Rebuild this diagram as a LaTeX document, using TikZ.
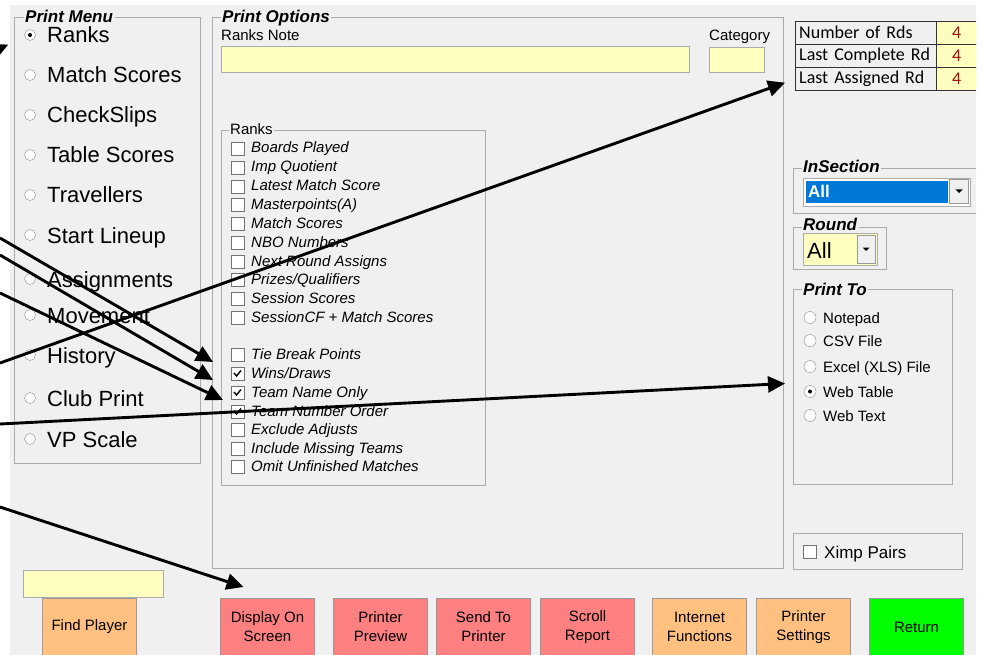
\documentclass[tikz,border=0pt]{standalone}
\usepackage{fontspec}
\setmainfont{Liberation Sans}
\newfontfamily\gridfont{Carlito}
\usetikzlibrary{arrows.meta,positioning}

\definecolor{winbg}{HTML}{F0F0F0}
\definecolor{etch}{HTML}{ABABAB}
\definecolor{editbg}{HTML}{FFFFC0}
\definecolor{btnred}{HTML}{FF8080}
\definecolor{btnorange}{HTML}{FFC080}
\definecolor{btngreen}{HTML}{00FF00}
\definecolor{selblue}{HTML}{0078D7}
\definecolor{valred}{HTML}{A01010}

\tikzset{
  pointer/.style={line width=2.9pt, -{Triangle[length=17pt,width=16pt]}},
  grp/.style={draw=etch, line width=0.9pt},
  grptitle/.style={anchor=base west, inner xsep=1.5pt, inner ysep=0pt, fill=winbg,
    font=\fontsize{17}{17}\selectfont\bfseries\itshape},
  lbl/.style={anchor=base west, inner sep=0pt, font=\fontsize{15}{15}\selectfont},
  menulbl/.style={anchor=base west, inner sep=0pt, font=\fontsize{22}{22}\selectfont},
  optlbl/.style={anchor=base west, inner sep=0pt, font=\fontsize{15}{15}\selectfont\itshape},
  radio/.style={circle, draw=black!45, fill=white, minimum size=11pt, inner sep=0pt},
  chk/.style={rectangle, draw=black!55, fill=white, minimum size=12.5pt, inner sep=0pt},
  tick/.style={line width=1.4pt},
  edit/.style={draw=etch, fill=editbg, line width=0.9pt, anchor=north west, inner sep=0pt},
  dropbtn/.style={draw=black!40, fill=winbg, minimum width=19pt, minimum height=24pt, inner sep=0pt},
  cell/.style={draw=black!80, fill=winbg, anchor=north west, minimum height=23pt,
    text width=133pt, inner xsep=4pt, inner ysep=0pt, align=left,
    font=\gridfont\fontsize{18}{18}\selectfont},
  valcell/.style={draw=black!80, fill=editbg, anchor=north west, minimum height=23pt,
    minimum width=41pt, inner sep=0pt, text=valred, font=\gridfont\fontsize{18}{18}\selectfont},
  btn/.style={draw=black!40, line width=1pt, minimum width=94pt, minimum height=57pt,
    anchor=north west, align=center, inner sep=0pt, font=\fontsize{15}{19}\selectfont}
}

\begin{document}
\begin{tikzpicture}[x=1pt,y=-1pt]
\useasboundingbox (0,0) rectangle (982,655);
\clip (0,0) rectangle (982,655);

\begin{scope}
\clip (10,5) rectangle (976,655);
\fill[winbg] (10,5) rectangle (976,655);

% print menu
\draw[grp] (14,17) rectangle (200,463);
\node[grptitle] at (23.5,23) {Print Menu};
\foreach \y/\t [count=\i] in {43/Ranks, 83/Match Scores, 123/CheckSlips, 163/Table Scores,
    203/Travellers, 243/Start Lineup, 287/Assignments, 323/Movement, 363/History,
    406/Club Print, 447/VP Scale}{
  \node[radio] (pm\i) at (30,\y-8) {};
  \node[menulbl] (pmt\i) at (47,\y) {\t};
}
\fill (pm1) circle (2pt);

% print options
\draw[grp] (212,17) rectangle (783,568);
\node[grptitle] at (220.5,23) {Print Options};
\node[lbl] (notelbl) at (221,41) {Ranks Note};
\node[edit, minimum width=468pt, minimum height=26pt] (note) at (221,46) {};
\node[lbl] (catlbl) at (709,41) {Category};
\node[edit, minimum width=55pt, minimum height=25pt] (cat) at (709,47) {};

% ranks options
\draw[grp] (221,130) rectangle (485,485);
\node[grptitle, font=\fontsize{15}{15}\selectfont] at (228.5,135) {Ranks};
\foreach \y/\t [count=\i] in {153/Boards Played, 172/Imp Quotient, 191/Latest Match Score,
    209/Masterpoints(A), 228/Match Scores, 247/NBO Numbers, 266/Next Round Assigns,
    284/{Prizes/Qualifiers}, 303/Session Scores, 322/SessionCF + Match Scores,
    359/Tie Break Points, 378/{Wins/Draws}, 397/Team Name Only, 416/Team Number Order,
    434/Exclude Adjusts, 453/Include Missing Teams, 471/Omit Unfinished Matches}{
  \node[chk] (cb\i) at (237.5,\y-4.5) {};
  \node[optlbl] (cbt\i) at (251,\y) {\t};
}
\foreach \i in {12,13,14}
  \draw[tick] ([xshift=-3.5pt,yshift=0.5pt]cb\i.center) -- ([xshift=-1pt,yshift=-2.5pt]cb\i.center)
    -- ([xshift=3.5pt,yshift=3pt]cb\i.center);

% rounds table
\node[cell] (nrds) at (795,21) {Number of Rds};
\node[cell] (lastcmp) at (795,44) {Last Complete Rd};
\node[cell] (lastasg) at (795,67) {Last Assigned Rd};
\node[valcell] (vnrds) at (936,21) {4};
\node[valcell] (vlastcmp) at (936,44) {4};
\node[valcell] (vlastasg) at (936,67) {4};

% in section
\draw[grp] (793,168) rectangle (995,213);
\node[grptitle] at (801.5,173) {InSection};
\node[draw=etch, fill=white, anchor=north west, minimum width=167pt, minimum height=28pt,
  inner sep=0pt] (secbox) at (803,178) {};
\fill[selblue] (806,181) rectangle (948,203);
\node[anchor=base west, inner sep=0pt, text=white, font=\fontsize{17}{17}\selectfont\bfseries]
  (secall) at (808,198) {All};
\node[dropbtn] (secdrop) at (959,191) {};
\fill ([xshift=-3.5pt,yshift=1.5pt]secdrop.center) -- ([xshift=3.5pt,yshift=1.5pt]secdrop.center)
  -- ([yshift=-2pt]secdrop.center) -- cycle;

% round
\draw[grp] (793,227) rectangle (886,269);
\node[grptitle] at (801.5,230) {Round};
\node[edit, minimum width=74pt, minimum height=32pt] (rndbox) at (803,233) {};
\node[anchor=base west, inner sep=0pt, font=\fontsize{22}{22}\selectfont] (rndall) at (807,258) {All};
\node[dropbtn, minimum width=18pt, minimum height=28pt] (rnddrop) at (866,249) {};
\fill ([xshift=-3.5pt,yshift=1.5pt]rnddrop.center) -- ([xshift=3.5pt,yshift=1.5pt]rnddrop.center)
  -- ([yshift=-2pt]rnddrop.center) -- cycle;

% print to
\draw[grp] (793,289) rectangle (952,484);
\node[grptitle] at (801.5,295) {Print To};
\foreach \y/\t [count=\i] in {323/Notepad, 346/CSV File, 372/Excel (XLS) File, 397/Web Table, 421/Web Text}{
  \node[radio, minimum size=12pt] (pt\i) at (810,\y-5.5) {};
  \node[lbl] (ptt\i) at (823,\y) {\t};
}
\fill (pt4) circle (2pt);

% ximp
\draw[grp] (793,533) rectangle (962,569);
\node[chk, minimum size=13pt] (ximp) at (809.5,551.5) {};
\node[lbl, font=\fontsize{17}{17}\selectfont] (ximpt) at (824,558) {Ximp Pairs};

% buttons
\node[edit, minimum width=140pt, minimum height=27pt] (find) at (23,570) {};
\foreach \x/\t/\c [count=\i] in {42/Find Player/btnorange, 220/{Display On\\Screen}/btnred,
    333/{Printer\\Preview}/btnred, 436/{Send To\\Printer}/btnred, 540/{Scroll\\Report}/btnred,
    652/{Internet\\Functions}/btnorange, 756/{Printer\\Settings}/btnorange, 869/Return/btngreen}
  \node[btn, fill=\c] (b\i) at (\x,598) {\t};
\end{scope}

% pointers
\coordinate (s1) at (-40,66);
\coordinate (s2) at (0,238);
\coordinate (s3) at (0,255);
\coordinate (s4) at (0,293);
\coordinate (s5) at (0,363);
\coordinate (s6) at (0,424);
\coordinate (s7) at (0,507);
\draw[pointer, shorten >=18pt] (s1) -- (pm1);
\draw[pointer] (s2) -- ([xshift=-24.5pt,yshift=-7.5pt]cb11.center);
\draw[pointer] (s3) -- ([xshift=-24.5pt,yshift=-6.5pt]cb12.center);
\draw[pointer] (s4) -- ([xshift=-14.5pt,yshift=-7.5pt]cb13.center);
\draw[pointer] (s5) -- ([xshift=-10pt,yshift=-4pt]lastasg.west);
\draw[pointer] (s6) -- ([xshift=-25pt,yshift=8pt]pt4.center);
\draw[pointer] (s7) -- ([xshift=-24pt,yshift=11pt]b2.north);
\end{tikzpicture}
\end{document}
